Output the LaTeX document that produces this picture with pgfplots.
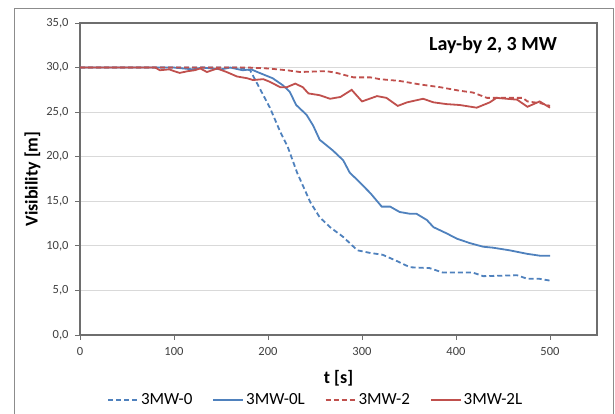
\documentclass[border=0pt]{standalone}
\usepackage{fontspec}
\setmainfont{Carlito}
\usepackage{pgfplots}
\pgfplotsset{compat=1.18}
\definecolor{xblue}{RGB}{79,129,189}
\definecolor{xred}{RGB}{192,80,77}
\definecolor{frame}{RGB}{140,140,140}
\definecolor{axgray}{RGB}{110,110,110}
\definecolor{gridc}{RGB}{217,217,217}
\begin{document}
\begin{tikzpicture}[x=1pt,y=1pt]
\useasboundingbox (0,0) rectangle (615,414);
\draw[frame,line width=1pt] (14,0) -- (14,405) -- (613,405) -- (613,0);
\begin{axis}[
  at={(80pt,79pt)}, anchor=south west,
  scale only axis, width=517pt, height=312pt,
  xmin=0, xmax=550, ymin=0, ymax=35,
  xtick={0,100,200,300,400,500},
  ytick={0,5,10,15,20,25,30,35},
  tick pos=left, tick align=outside,
  major tick length=5pt,
  every tick/.style={axgray, line width=0.8pt},
  axis line style={axgray, line width=1.2pt},
  ymajorgrids, grid style={gridc, line width=0.8pt},
  yticklabel style={/pgf/number format/.cd, fixed, fixed zerofill, precision=1, use comma},
  xticklabel style={/pgf/number format/.cd, fixed, precision=0},
  /pgf/number format/assume math mode=true,
  tick label style={font=\fontsize{12.5}{14}\selectfont, text=black!75},
  xticklabel shift=4pt,
  yticklabel shift=3pt,
  xlabel={\textbf{t [s]}}, ylabel={\textbf{Visibility [m]}},
  label style={font=\fontsize{18}{20}\selectfont},
  xlabel style={at={(rel axis cs:0.5,0)}, anchor=north, yshift=-32pt},
  ylabel style={at={(rel axis cs:0,0.5)}, anchor=south, rotate=0, xshift=0pt, yshift=36pt},
  legend columns=4,
  legend style={draw=none, fill=none, at={(0.456,-0.208)}, anchor=center,
    font=\fontsize{17}{20}\selectfont, /tikz/every even column/.append style={column sep=18pt}},
  legend image code/.code={\draw[#1] (0pt,0pt) -- (30pt,0pt);},
  clip=false,
]
\addplot[xblue, line width=1.8pt, dash pattern=on 5pt off 3pt] coordinates {
(0,30) (80,30) (150,30) (170,30) (181,29.7) (191,27.7) (202,25.5) (213,22.8) (221,21.1) (231,18.2) (245,14.9) (255,13.2) (266,12.1) (280,11.0) (295,9.5) (309,9.2) (322,9.0) (337,8.3) (351,7.6) (372,7.5) (386,7.0) (418,7.0) (429,6.6) (465,6.7) (476,6.3) (489,6.3) (500,6.1)};
\addlegendentry{3MW-0}
\addplot[xblue, line width=1.8pt] coordinates {
(0,30) (100,30) (120,29.8) (130,30) (150,29.8) (160,30) (173,29.7) (182,29.8) (191,29.4) (205,28.8) (216,28.0) (223,27.3) (230,25.8) (241,24.7) (248,23.5) (255,21.9) (269,20.7) (280,19.6) (287,18.2) (295,17.4) (309,15.9) (321,14.4) (330,14.4) (340,13.8) (351,13.6) (358,13.6) (369,12.9) (376,12.1) (390,11.4) (401,10.8) (415,10.3) (429,9.9) (439,9.8) (457,9.5) (476,9.1) (489,8.9) (500,8.9)};
\addlegendentry{3MW-0L}
\addplot[xred, line width=1.8pt, dash pattern=on 5pt off 3pt] coordinates {
(0,30) (180,30) (200,29.9) (220,29.7) (234,29.5) (262,29.6) (273,29.4) (291,28.9) (309,28.9) (319,28.7) (340,28.5) (362,28.1) (383,27.8) (404,27.4) (418,27.2) (433,26.6) (471,26.6) (476,26.2) (490,26.0) (500,25.7)};
\addlegendentry{3MW-2}
\addplot[xred, line width=1.8pt] coordinates {
(0,30) (80,30) (85,29.7) (95,29.8) (100,29.6) (106,29.4) (115,29.6) (122,29.7) (128,29.9) (135,29.5) (146,29.9) (156,29.5) (167,29.0) (178,28.8) (184,28.6) (195,28.7) (202,28.4) (213,27.8) (220,27.8) (229,28.2) (237,27.8) (243,27.1) (255,26.9) (266,26.5) (277,26.7) (289,27.5) (300,26.2) (316,26.8) (326,26.6) (338,25.7) (348,26.1) (365,26.5) (376,26.1) (390,25.9) (404,25.8) (422,25.5) (436,26.1) (443,26.6) (465,26.4) (476,25.6) (489,26.2) (500,25.5)};
\addlegendentry{3MW-2L}
\node[anchor=center, font=\fontsize{20}{22}\selectfont\bfseries] at (axis cs:510,30) [yshift=0pt] {};
\end{axis}
\node[font=\fontsize{20}{22}\selectfont\bfseries] at (493,369) {Lay-by 2, 3 MW};
\end{tikzpicture}
\end{document}
